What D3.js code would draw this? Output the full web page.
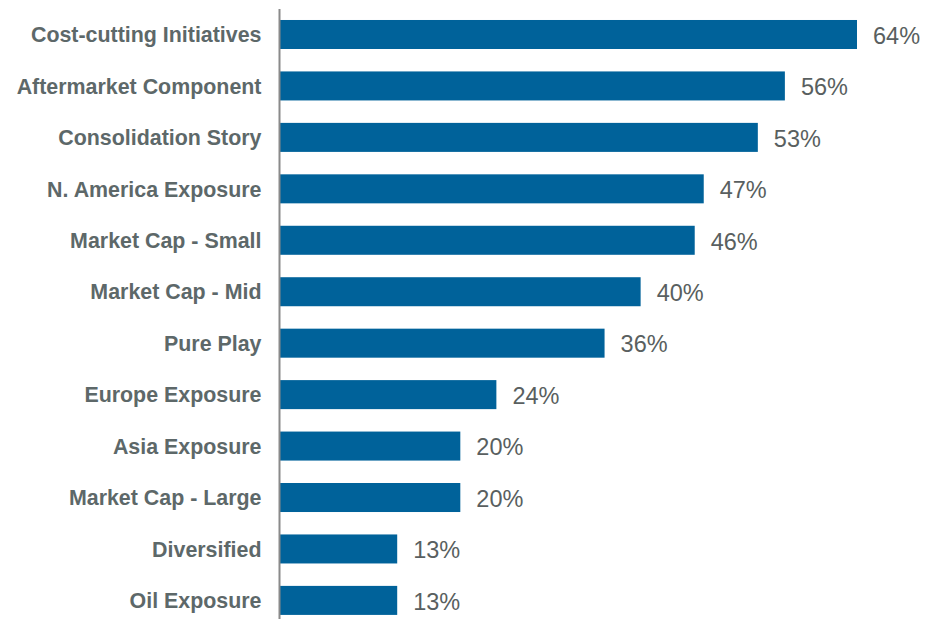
<!DOCTYPE html>
<html>
<head>
<meta charset="utf-8">
<script src="https://cdn.jsdelivr.net/npm/d3@7"></script>
<style>
  html, body { margin: 0; padding: 0; background: #ffffff; }
  svg { display: block; }
</style>
</head>
<body>
<svg id="chart" width="932" height="619"></svg>
<script>
// Share of respondents citing each factor
const categories = [
  "Cost-cutting Initiatives",
  "Aftermarket Component",
  "Consolidation Story",
  "N. America Exposure",
  "Market Cap - Small",
  "Market Cap - Mid",
  "Pure Play",
  "Europe Exposure",
  "Asia Exposure",
  "Market Cap - Large",
  "Diversified",
  "Oil Exposure"
];
const values = [64, 56, 53, 47, 46, 40, 36, 24, 20, 20, 13, 13];

const svg = d3.select("#chart");
const axisX = 279.5;

const x = d3.scaleLinear().domain([0, 64]).range([280, 857]);
const y = d3.scaleBand()
  .domain(categories)
  .range([9.7, 625.2])
  .paddingInner(0.436)
  .paddingOuter(0.2);

// bars
svg.append("g").selectAll("rect")
  .data(categories)
  .join("rect")
  .attr("x", x(0))
  .attr("y", d => y(d))
  .attr("width", (d, i) => x(values[i]) - x(0))
  .attr("height", y.bandwidth())
  .attr("fill", "#00629a");

// category axis
const yAxis = d3.axisLeft(y).tickSize(0).tickPadding(18);
const ag = svg.append("g")
  .attr("transform", `translate(${axisX},0)`)
  .call(yAxis);
ag.select(".domain").remove();
ag.selectAll("text")
  .attr("fill", "#5d6869")
  .attr("dy", "0.36em")
  .style("font-family", "'Liberation Sans', Arial, sans-serif")
  .style("font-size", "21.4px")
  .style("font-weight", "bold");

svg.append("line")
  .attr("x1", axisX).attr("x2", axisX)
  .attr("y1", 9).attr("y2", 619)
  .attr("stroke", "#8a8a8a")
  .attr("stroke-width", 2);

// value labels
svg.append("g").selectAll("text")
  .data(categories)
  .join("text")
  .attr("x", (d, i) => x(values[i]) + 16)
  .attr("y", d => y(d) + y.bandwidth() / 2 + 1)
  .attr("dy", "0.35em")
  .attr("fill", "#595f60")
  .style("font-family", "'Liberation Sans', Arial, sans-serif")
  .style("font-size", "23.5px")
  .text((d, i) => values[i] + "%");
</script>
</body>
</html>
